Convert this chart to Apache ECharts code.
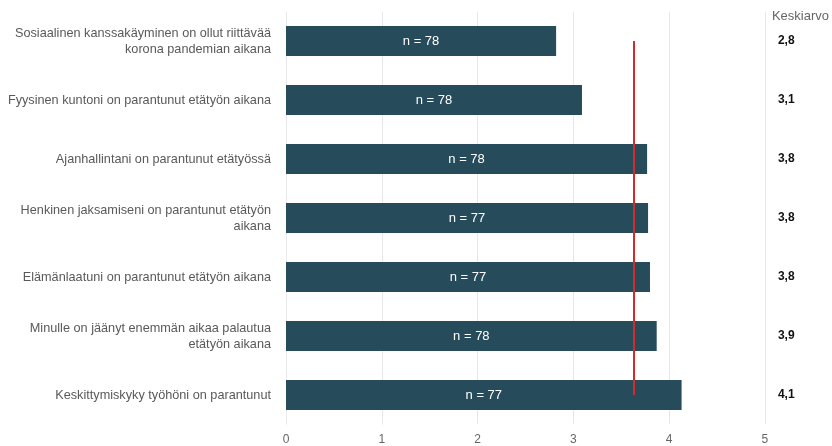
<!DOCTYPE html>
<html>
<head>
<meta charset="utf-8">
<style>
  html, body { margin: 0; padding: 0; background: #ffffff; }
  #chart { width: 832px; height: 446px; }
</style>
<script src="https://cdn.jsdelivr.net/npm/echarts@6/dist/echarts.min.js"></script>
</head>
<body>
<div id="chart"></div>
<script>
// Väittämät (ylhäältä alas)
const statements = [
  'Sosiaalinen kanssakäyminen on ollut riittävää\nkorona pandemian aikana',
  'Fyysinen kuntoni on parantunut etätyön aikana',
  'Ajanhallintani on parantunut etätyössä',
  'Henkinen jaksamiseni on parantunut etätyön\naikana',
  'Elämänlaatuni on parantunut etätyön aikana',
  'Minulle on jäänyt enemmän aikaa palautua\netätyön aikana',
  'Keskittymiskyky työhöni on parantunut'
];
// Keskiarvot asteikolla 0–5
const means = [2.82, 3.09, 3.77, 3.78, 3.80, 3.87, 4.13];
// Vastaajamäärät
const respondents = [78, 78, 78, 77, 77, 78, 77];
// Kaikkien väittämien keskiarvo
const overallMean = 3.63;
const xTicks = [0, 1, 2, 3, 4, 5];

const fmt = v => v.toFixed(1).replace('.', ',');
const meanLabels = means.map(fmt);

const FONT = '"Liberation Sans", Arial, sans-serif';

const chart = echarts.init(document.getElementById('chart'), null, { renderer: 'canvas' });

chart.setOption({
  animation: false,
  grid: { left: 286, right: 61, top: 11.5, bottom: 21.5, containLabel: false },
  xAxis: {
    type: 'value',
    min: xTicks[0],
    max: xTicks[xTicks.length - 1],
    interval: 1,
    axisLine: { show: false },
    axisTick: { show: false },
    splitLine: { show: true, lineStyle: { color: '#e8e8e8', width: 1 } },
    axisLabel: { color: '#666666', fontSize: 12, fontFamily: FONT, margin: 9 }
  },
  yAxis: [
    {
      type: 'category',
      data: statements,
      inverse: true,
      axisLine: { show: false },
      axisTick: { show: false },
      axisLabel: {
        color: '#595959', fontSize: 12.7, fontFamily: FONT,
        margin: 15, lineHeight: 16, align: 'right'
      }
    },
    {
      type: 'category',
      data: meanLabels,
      inverse: true,
      position: 'right',
      axisLine: { show: false },
      axisTick: { show: false },
      axisLabel: {
        color: '#111111', fontSize: 12, fontWeight: 'bold', fontFamily: FONT,
        margin: 13, align: 'left'
      },
      name: 'Keskiarvo',
      nameLocation: 'start',
      nameGap: -5,
      nameTextStyle: {
        color: '#666666', fontSize: 13, fontFamily: FONT,
        align: 'left', verticalAlign: 'middle', padding: [0, 0, 0, 7]
      }
    }
  ],
  series: [
    {
      type: 'bar',
      yAxisIndex: 0,
      data: means,
      barWidth: 30,
      itemStyle: { color: '#264b5b' },
      label: {
        show: true,
        position: 'inside',
        color: '#ffffff',
        fontSize: 13,
        fontFamily: FONT,
        formatter: p => 'n = ' + respondents[p.dataIndex]
      },
      markLine: {
        silent: true,
        symbol: ['none', 'none'],
        label: { show: false },
        lineStyle: { color: '#d42a2a', width: 2, type: 'solid' },
        data: [[
          { coord: [overallMean, statements[0]] },
          { coord: [overallMean, statements[statements.length - 1]] }
        ]]
      }
    }
  ]
});
</script>
</body>
</html>
